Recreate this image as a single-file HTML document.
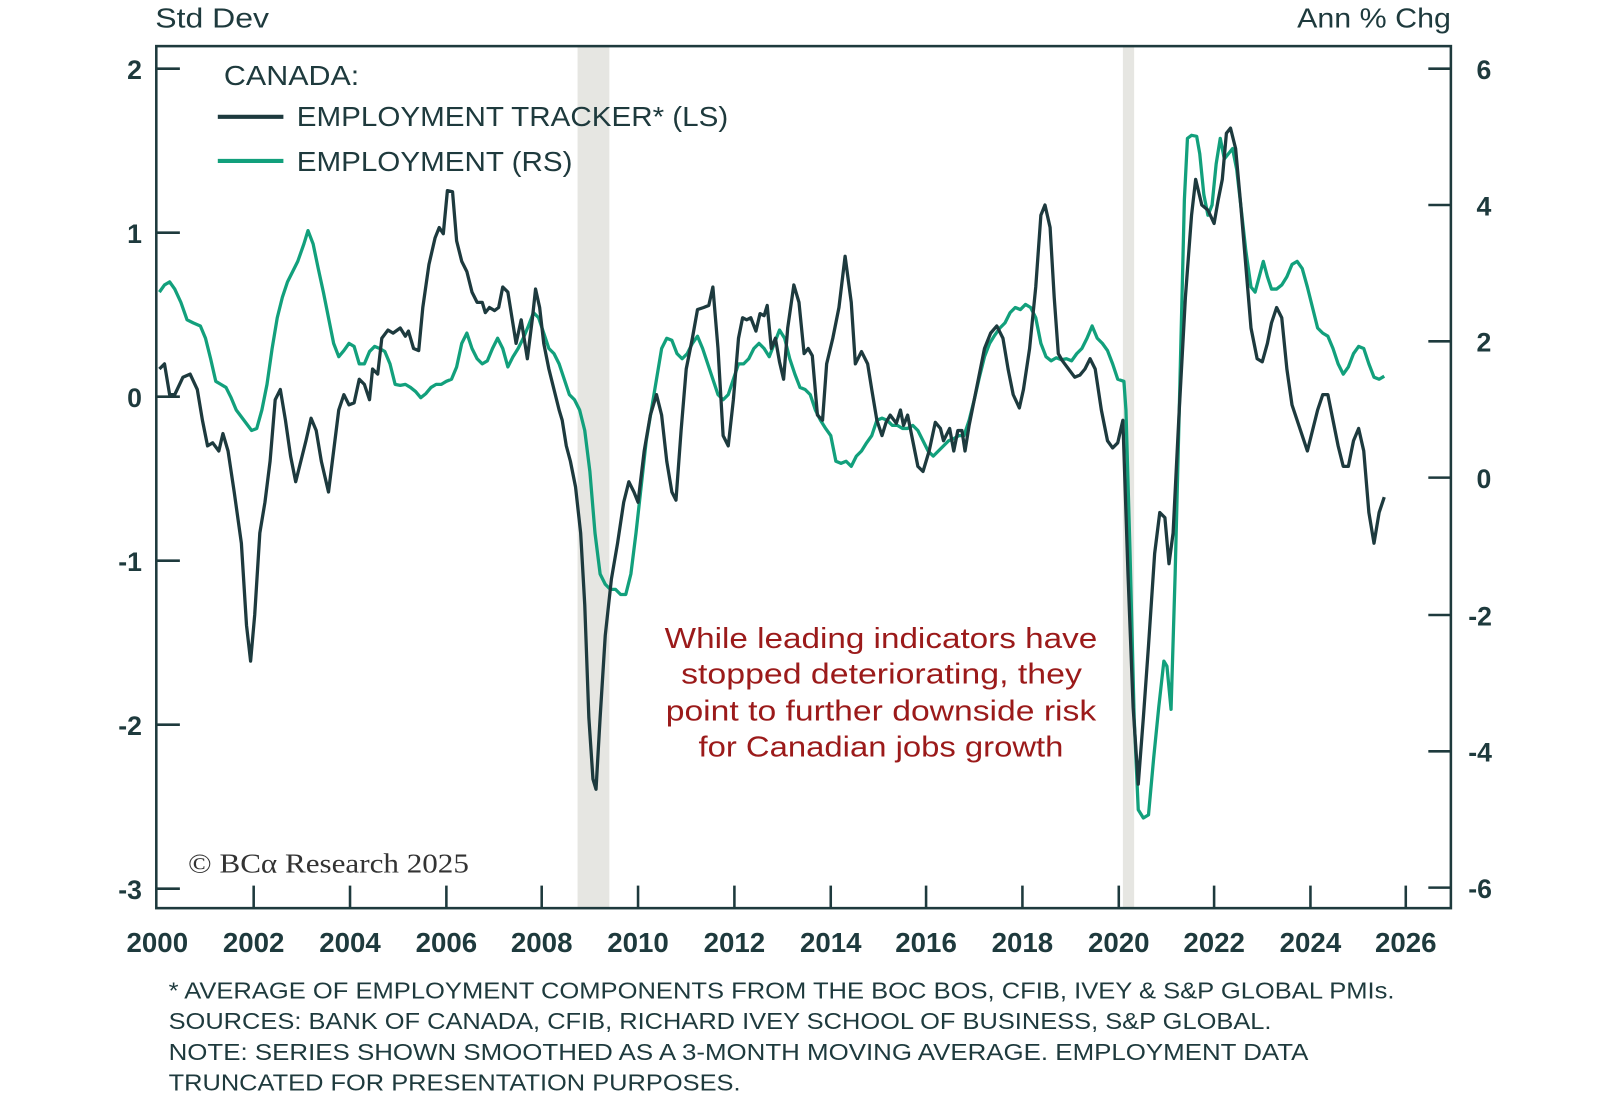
<!DOCTYPE html>
<html><head><meta charset="utf-8"><style>
html,body{margin:0;padding:0;background:#fff;}
svg{display:block;}
text{font-family:"Liberation Sans",sans-serif;fill:#1e3a3d;}
</style></head><body>
<svg width="1600" height="1107" viewBox="0 0 1560 1080" xmlns="http://www.w3.org/2000/svg">
<rect x="563" y="46" width="31" height="840" fill="#e6e6e2"/>
<rect x="1095" y="46" width="11" height="840" fill="#e6e6e2"/>
<rect x="152" y="45" width="1263" height="841" fill="none" stroke="#1e3a3d" stroke-width="2.5"/>
<g stroke="#1e3a3d" stroke-width="2.5">
<line x1="152" y1="67" x2="175" y2="67"/><line x1="152" y1="227" x2="175" y2="227"/><line x1="152" y1="387" x2="175" y2="387"/><line x1="152" y1="547" x2="175" y2="547"/><line x1="152" y1="707" x2="175" y2="707"/><line x1="152" y1="867" x2="175" y2="867"/>
<line x1="1393" y1="67" x2="1415" y2="67"/><line x1="1393" y1="200" x2="1415" y2="200"/><line x1="1393" y1="333" x2="1415" y2="333"/><line x1="1393" y1="466" x2="1415" y2="466"/><line x1="1393" y1="600" x2="1415" y2="600"/><line x1="1393" y1="733" x2="1415" y2="733"/><line x1="1393" y1="866" x2="1415" y2="866"/>
<line x1="247" y1="864" x2="247" y2="886"/><line x1="341" y1="864" x2="341" y2="886"/><line x1="435" y1="864" x2="435" y2="886"/><line x1="528" y1="864" x2="528" y2="886"/><line x1="622" y1="864" x2="622" y2="886"/><line x1="716" y1="864" x2="716" y2="886"/><line x1="810" y1="864" x2="810" y2="886"/><line x1="903" y1="864" x2="903" y2="886"/><line x1="997" y1="864" x2="997" y2="886"/><line x1="1091" y1="864" x2="1091" y2="886"/><line x1="1184" y1="864" x2="1184" y2="886"/><line x1="1278" y1="864" x2="1278" y2="886"/><line x1="1371" y1="864" x2="1371" y2="886"/>
</g>
<g font-size="26" text-anchor="end" style="font-weight:600">
<text x="138" y="77">2</text><text x="138" y="237">1</text><text x="138" y="397">0</text><text x="138" y="557">-1</text><text x="138" y="717">-2</text><text x="138" y="877">-3</text>
</g>
<g font-size="26" text-anchor="start" style="font-weight:600">
<text x="1440" y="77">6</text><text x="1440" y="210">4</text><text x="1440" y="343">2</text><text x="1440" y="476">0</text><text x="1432" y="610">-2</text><text x="1432" y="743">-4</text><text x="1432" y="876">-6</text>
</g>
<g font-size="27" text-anchor="middle" style="font-weight:600">
<text x="153" y="929">2000</text><text x="247" y="929">2002</text><text x="341" y="929">2004</text><text x="435" y="929">2006</text><text x="528" y="929">2008</text><text x="622" y="929">2010</text><text x="716" y="929">2012</text><text x="810" y="929">2014</text><text x="903" y="929">2016</text><text x="997" y="929">2018</text><text x="1091" y="929">2020</text><text x="1184" y="929">2022</text><text x="1278" y="929">2024</text><text x="1371" y="929">2026</text>
</g>
<text x="151" y="27" font-size="27" textLength="111" lengthAdjust="spacingAndGlyphs">Std Dev</text>
<text x="1265" y="27" font-size="27" textLength="150" lengthAdjust="spacingAndGlyphs">Ann % Chg</text>
<text x="218" y="83" font-size="27" textLength="132" lengthAdjust="spacingAndGlyphs">CANADA:</text>
<line x1="212" y1="114" x2="276" y2="114" stroke="#1d3a3e" stroke-width="4"/>
<text x="289" y="123" font-size="27" textLength="421" lengthAdjust="spacingAndGlyphs">EMPLOYMENT TRACKER* (LS)</text>
<line x1="212" y1="157" x2="276" y2="157" stroke="#12a07c" stroke-width="4"/>
<text x="289" y="167" font-size="27" textLength="269" lengthAdjust="spacingAndGlyphs">EMPLOYMENT (RS)</text>
<polyline fill="none" stroke="#12a07c" stroke-width="3.2" stroke-linejoin="round" points="155,285 160,278 165,275 170,282 176,295 182,312 188,315 195,318 200,330 205,350 210,372 215,375 220,378 225,388 230,400 245,420 250,418 255,400 260,375 265,340 270,310 275,290 280,275 285,265 290,255 296,238 300,225 305,238 310,262 315,285 320,310 325,335 330,348 335,342 340,335 345,338 350,355 355,355 360,343 365,338 370,340 375,343 380,355 385,375 390,376 395,375 400,378 405,382 410,388 415,384 420,378 425,375 430,375 435,372 440,370 445,358 450,335 455,325 460,340 465,350 470,355 475,352 480,340 485,330 490,340 495,358 500,348 505,340 510,330 515,318 520,305 525,310 530,325 535,340 540,345 545,355 550,370 555,385 560,390 565,400 570,420 575,460 580,520 585,560 590,570 595,575 600,575 605,580 610,580 615,560 620,520 625,475 630,430 635,400 640,370 645,340 650,330 655,332 660,345 665,350 670,345 675,335 680,328 685,340 690,355 695,370 700,385 705,390 710,385 715,370 720,355 725,355 730,350 735,340 740,335 745,340 750,348 755,335 760,322 765,330 770,350 775,365 780,378 785,380 790,385 795,400 800,410 805,418 810,425 815,450 820,452 825,450 830,455 835,445 840,440 845,432 850,425 855,410 860,408 865,410 870,415 875,415 880,418 885,418 890,415 895,420 900,430 905,440 910,445 915,440 920,435 925,430 930,428 935,425 940,425 945,410 950,390 955,368 960,348 965,335 970,327 975,320 980,315 985,305 990,300 995,302 1000,297 1005,300 1010,310 1015,335 1020,348 1025,352 1030,349 1035,351 1040,350 1045,352 1050,345 1055,340 1060,330 1065,318 1070,330 1075,335 1080,342 1085,355 1090,370 1096,372 1098,400 1102,540 1106,700 1110,790 1115,798 1120,795 1125,740 1130,690 1135,645 1138,650 1142,692 1146,560 1150,400 1155,195 1158,135 1162,132 1167,133 1170,150 1174,190 1178,210 1182,200 1186,160 1190,135 1194,155 1198,150 1202,145 1206,165 1210,200 1215,245 1220,280 1224,285 1228,270 1232,255 1236,270 1240,282 1245,282 1250,278 1255,270 1260,258 1265,255 1270,262 1275,280 1280,300 1285,320 1290,325 1295,328 1300,340 1305,355 1310,365 1315,358 1320,345 1325,338 1330,340 1335,355 1340,368 1345,370 1350,367"/>
<polyline fill="none" stroke="#1d3a3e" stroke-width="3.2" stroke-linejoin="round" points="155,360 160,355 165,385 170,385 178,368 185,365 192,380 197,410 202,435 207,432 213,440 217,423 222,440 228,480 235,530 240,610 244,645 248,600 253,520 258,490 263,450 268,390 273,380 278,410 283,445 288,470 293,450 298,430 303,408 308,420 313,450 320,480 325,440 330,400 335,385 340,395 345,393 350,370 355,375 360,390 363,360 368,365 372,330 378,322 383,325 390,320 395,328 398,323 403,340 408,342 412,300 418,258 424,232 428,222 432,228 436,186 441,187 445,235 450,255 455,265 460,285 465,295 470,295 473,305 477,300 482,303 486,300 490,280 495,285 499,310 503,335 508,312 514,350 519,310 522,282 526,300 530,335 535,360 540,380 545,400 548,410 552,435 556,450 561,475 566,520 570,590 574,700 578,760 581,770 585,700 590,620 596,565 602,530 608,490 613,470 618,480 622,490 628,440 634,405 640,385 645,405 650,450 655,480 659,488 664,420 669,360 675,330 680,302 686,300 691,298 695,280 700,340 705,425 710,435 715,390 720,330 724,310 728,312 732,310 737,323 741,306 745,308 748,298 752,340 756,330 760,353 764,370 768,320 774,278 779,295 784,345 788,340 792,347 797,405 802,410 806,355 812,330 818,300 824,250 830,295 834,355 840,343 846,355 850,380 855,410 860,425 864,412 868,405 874,413 878,400 881,415 885,405 890,430 895,455 900,460 906,440 912,412 917,418 920,430 926,418 930,440 934,420 938,420 941,440 945,415 950,390 955,365 960,340 966,325 972,318 978,330 983,360 988,385 994,398 998,380 1004,340 1010,280 1015,210 1019,200 1024,222 1028,290 1032,345 1036,352 1042,360 1048,368 1053,366 1058,360 1063,350 1068,360 1074,400 1080,430 1085,437 1090,432 1095,410 1100,560 1105,690 1110,765 1115,700 1120,630 1126,540 1131,500 1136,505 1140,550 1144,520 1150,400 1156,290 1162,210 1166,175 1172,200 1178,205 1184,218 1188,195 1192,175 1196,130 1200,125 1205,145 1210,200 1215,260 1220,320 1226,350 1231,353 1236,335 1240,315 1245,300 1250,310 1255,360 1260,395 1265,410 1270,425 1275,440 1280,420 1285,400 1290,385 1295,385 1300,410 1305,435 1310,455 1315,455 1320,430 1325,418 1330,440 1335,500 1340,530 1345,500 1350,485"/>
<g font-size="28">
<text x="648" y="632" style="fill:#9b1a1a" textLength="422" lengthAdjust="spacingAndGlyphs">While leading indicators have</text>
<text x="664" y="667" style="fill:#9b1a1a" textLength="391" lengthAdjust="spacingAndGlyphs">stopped deteriorating, they</text>
<text x="649" y="703" style="fill:#9b1a1a" textLength="420" lengthAdjust="spacingAndGlyphs">point to further downside risk</text>
<text x="681" y="738" style="fill:#9b1a1a" textLength="356" lengthAdjust="spacingAndGlyphs">for Canadian jobs growth</text>
</g>
<text x="183" y="851" font-size="27" style="font-family:'Liberation Serif',serif;fill:#333" textLength="274" lengthAdjust="spacingAndGlyphs">© BCα Research 2025</text>
<g font-size="23">
<text x="164" y="974" textLength="1196" lengthAdjust="spacingAndGlyphs">* AVERAGE OF EMPLOYMENT COMPONENTS FROM THE BOC BOS, CFIB, IVEY &amp; S&amp;P GLOBAL PMIs.</text>
<text x="164" y="1004" textLength="1076" lengthAdjust="spacingAndGlyphs">SOURCES: BANK OF CANADA, CFIB, RICHARD IVEY SCHOOL OF BUSINESS, S&amp;P GLOBAL.</text>
<text x="164" y="1034" textLength="1112" lengthAdjust="spacingAndGlyphs">NOTE: SERIES SHOWN SMOOTHED AS A 3-MONTH MOVING AVERAGE. EMPLOYMENT DATA</text>
<text x="164" y="1064" textLength="558" lengthAdjust="spacingAndGlyphs">TRUNCATED FOR PRESENTATION PURPOSES.</text>
</g>
</svg>
</body></html>
